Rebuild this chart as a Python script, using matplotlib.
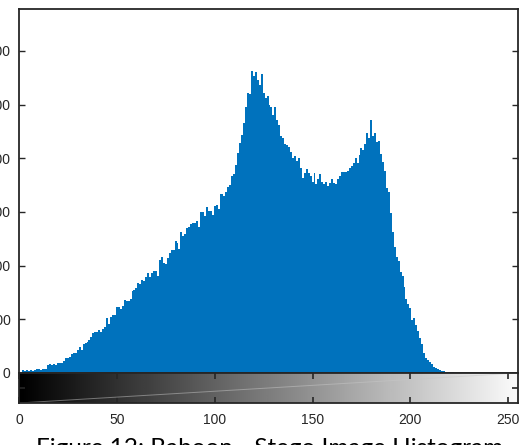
import numpy as np
import matplotlib.pyplot as plt

# grey levels 0..255 and pixel counts
levels = np.arange(256)
counts = [
    19, 19, 50, 37, 50, 37, 50, 37, 50, 80,
    69, 61, 80, 74, 74, 143, 162, 149, 162, 149,
    181, 181, 181, 218, 274, 274, 292, 348, 372, 372,
    423, 479, 434, 540, 553, 572, 614, 676, 739, 758,
    763, 801, 763, 819, 857, 1024, 912, 1043, 1080, 1080,
    1229, 1229, 1192, 1248, 1359, 1341, 1341, 1378, 1527, 1545,
    1583, 1676, 1657, 1732, 1713, 1788, 1862, 1788, 1862, 1899,
    1899, 1806, 2104, 2160, 2048, 2030, 2141, 2234, 2290, 2290,
    2458, 2421, 2309, 2625, 2551, 2588, 2700, 2718, 2774, 2793,
    2793, 2830, 2718, 2998, 2998, 2923, 3091, 3016, 3016, 2942,
    3109, 3128, 3054, 3333, 3333, 3296, 3370, 3463, 3500, 3668,
    3705, 3873, 4096, 4283, 4432, 4655, 4953, 5213, 5195, 5623,
    5530, 5604, 5456, 5363, 5567, 5213, 5120, 5158, 4990, 4953,
    4804, 4953, 4711, 4618, 4413, 4376, 4264, 4245, 4208, 4115,
    4003, 4041, 3947, 4003, 3817, 3631, 3724, 3798, 3724, 3668,
    3556, 3724, 3519, 3612, 3705, 3556, 3519, 3556, 3482, 3538,
    3612, 3538, 3519, 3612, 3668, 3743, 3743, 3743, 3761, 3817,
    3854, 3910, 4003, 3910, 4059, 4190, 4152, 4264, 4469, 4376,
    4711, 4413, 4469, 4301, 4320, 4078, 3929, 3761, 3445, 3370,
    2979, 2625, 2346, 2160, 2085, 1881, 1806, 1601, 1378, 1285,
    1210, 987, 1024, 894, 782, 652, 540, 372, 279, 242,
    205, 168, 112, 93, 74, 56, 37, 37, 24, 24,
    19, 19, 19,
] + [0] * 33

yticks = [0, 1000, 2000, 3000, 4000, 5000, 6000]
xticks = [0, 50, 100, 150, 200, 250]
caption = 'Figure 12: Baboon - Stego Image Histogram'

W, H = 521, 445
fig = plt.figure(figsize=(W / 100, H / 100), dpi=100)
plt.rcParams['font.family'] = ['Liberation Sans', 'DejaVu Sans']
dark = '#262626'

ax = fig.add_axes([19 / W, (H - 373) / H, 499 / W, 364 / H])
# one filled step outline per bin, centred on the grey level (no seams)
edges = np.append(levels - 0.5, levels[-1] + 0.5)
ax.stairs(counts, edges, fill=True, color='#0072BD', linewidth=0)
ax.set_xlim(0, 255)
ax.set_ylim(0, 6780)
ax.set_xticks([])
ax.set_yticks(yticks)
ax.set_yticklabels([str(v) for v in yticks])
ax.tick_params(axis='y', direction='in', length=4, width=1, color=dark,
               right=True, labelsize=10, labelcolor=dark, pad=6)
for s in ax.spines.values():
    s.set_color(dark)
    s.set_linewidth(1.3)

# grey ramp under the histogram, like imhist
cax = fig.add_axes([19 / W, (H - 403) / H, 499 / W, 30 / H])
ramp = np.linspace(0, 1, 256).reshape(1, -1)
cax.imshow(ramp, cmap='gray', aspect='auto', extent=[0, 255, 0, 1],
           vmin=0, vmax=1.02)
cax.plot([0, 255], [0.0, 1.0], color='#c8c8c8', lw=0.7, alpha=0.5)
cax.set_xlim(0, 255)
cax.set_ylim(0, 1)
cax.set_xticks(xticks)
cax.set_yticks([0.5])
cax.set_yticklabels([])
cax.tick_params(axis='x', direction='in', length=4, width=1.2, color=dark,
                top=True, labelsize=10, labelcolor=dark, pad=7)
cax.tick_params(axis='y', direction='in', length=4, width=1.2, color=dark,
                right=True)
for s in cax.spines.values():
    s.set_color(dark)
    s.set_linewidth(1.3)

fig.text(270 / W, -10 / H, caption, ha='center', va='baseline',
         fontsize=17.5, family=['Lato', 'DejaVu Sans'], color='black')

fig.savefig('out.png', dpi=100)
